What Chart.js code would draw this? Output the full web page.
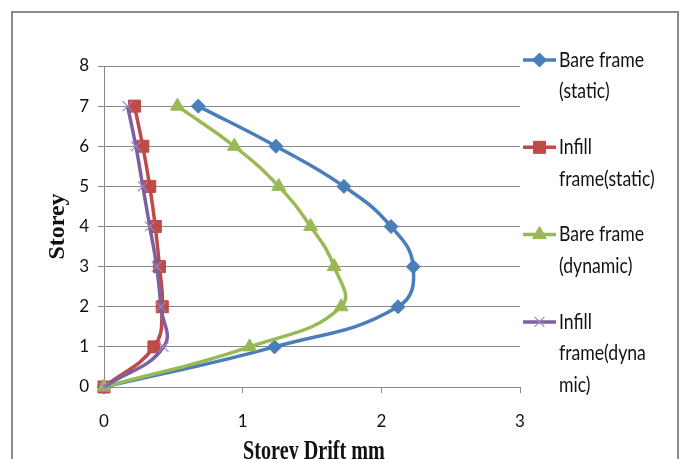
<!DOCTYPE html>
<html>
<head>
<meta charset="utf-8">
<script src="https://cdn.jsdelivr.net/npm/chart.js@4/dist/chart.umd.min.js"></script>
<style>
  html, body { margin: 0; padding: 0; background: #fff; }
  #wrap { width: 684px; height: 459px; position: relative; }
</style>
</head>
<body>
<div id="wrap"><canvas id="c" width="684" height="459"></canvas></div>
<script>
// Storey drift (mm) per storey level for each frame type / analysis
const storeys = [0, 1, 2, 3, 4, 5, 6, 7];
const bareStatic    = [0, 1.23, 2.12, 2.23, 2.07, 1.73, 1.24, 0.68];
const infillStatic  = [0, 0.36, 0.42, 0.40, 0.37, 0.33, 0.28, 0.22];
const bareDynamic   = [0, 1.05, 1.71, 1.66, 1.49, 1.26, 0.94, 0.53];
const infillDynamic = [0, 0.43, 0.41, 0.38, 0.33, 0.28, 0.23, 0.17];

const xTicks = [0, 1, 2, 3];
const yTicks = [0, 1, 2, 3, 4, 5, 6, 7, 8];

const seriesNames = ['Bare frame (static)', 'Infill frame(static)', 'Bare frame (dynamic)', 'Infill frame(dynamic)'];
const legendLines = [
  ['Bare frame', '(static)'],
  ['Infill', 'frame(static)'],
  ['Bare frame', '(dynamic)'],
  ['Infill', 'frame(dyna', 'mic)']
];

const xTitle = 'Storey Drift mm';
const yTitle = 'Storey';

const GRID = '#888888';
const TEXT = '#111111';
const TICK_FONT = { family: 'Lato, "Liberation Sans", sans-serif', size: 17 };

function pairs(xs) {
  return xs.map((x, i) => ({ x: x, y: storeys[i] }));
}

function series(label, values, color, style, radius, order, markerColor, markerBorder) {
  return {
    label: label,
    data: pairs(values),
    showLine: true,
    borderColor: color,
    backgroundColor: color,
    borderWidth: 3.5,
    tension: 0.45,
    pointStyle: style,
    pointRadius: radius,
    pointHoverRadius: radius,
    pointBackgroundColor: markerColor || color,
    pointBorderColor: markerColor || color,
    pointBorderWidth: markerBorder,
    clip: false,
    order: order
  };
}

// outer frame, condensed x-axis title and the wrapped legend on the right
const frameAndLegend = {
  id: 'frameAndLegend',
  beforeDraw(chart) {
    const ctx = chart.ctx;
    ctx.save();
    ctx.fillStyle = '#ffffff';
    ctx.fillRect(0, 0, chart.width, chart.height);
    ctx.restore();
  },
  afterDraw(chart) {
    const ctx = chart.ctx;
    const area = chart.chartArea;
    ctx.save();
    ctx.strokeStyle = '#8a8a8a';
    ctx.lineWidth = 2;
    ctx.strokeRect(12, 12, 666, 470);

    // x-axis title, narrow bold serif
    ctx.save();
    ctx.translate((area.left + area.right) / 2 + 2, 458.5);
    ctx.scale(0.72, 1);
    ctx.font = 'bold 28px "Liberation Serif", "Times New Roman", serif';
    ctx.fillStyle = TEXT;
    ctx.textAlign = 'center';
    ctx.textBaseline = 'alphabetic';
    ctx.fillText(xTitle, 0, 0);
    ctx.restore();

    chart.data.datasets.forEach((ds, i) => {
      const y0 = 60 + i * 87.3;
      ctx.strokeStyle = ds.borderColor;
      ctx.lineWidth = ds.borderWidth;
      ctx.beginPath();
      ctx.moveTo(523, y0);
      ctx.lineTo(556, y0);
      ctx.stroke();

      ctx.fillStyle = ds.pointBackgroundColor;
      ctx.strokeStyle = ds.pointBorderColor;
      ctx.lineWidth = ds.pointBorderWidth;
      Chart.helpers.drawPoint(ctx, {
        pointStyle: ds.pointStyle,
        radius: ds.pointRadius,
        borderWidth: ds.pointBorderWidth,
        rotation: 0
      }, 539.5, y0);

      ctx.save();
      ctx.translate(559, y0);
      ctx.scale(0.84, 1);
      ctx.fillStyle = TEXT;
      ctx.font = '21px Lato, "Liberation Sans", sans-serif';
      ctx.textAlign = 'left';
      ctx.textBaseline = 'middle';
      legendLines[i].forEach((line, k) => {
        ctx.fillText(line, 0, k * 31.5);
      });
      ctx.restore();
    });
    ctx.restore();
  }
};

new Chart(document.getElementById('c'), {
  type: 'scatter',
  data: {
    datasets: [
      series(seriesNames[0], bareStatic,    '#4A7EBB', 'rectRot',  7,   4, null, 1),
      series(seriesNames[1], infillStatic,  '#BE4B48', 'rect',     8.5, 3, null, 1),
      series(seriesNames[2], bareDynamic,   '#98B954', 'triangle', 8,   2, null, 1),
      series(seriesNames[3], infillDynamic, '#7D60A0', 'crossRot', 7,   1, '#9A86C2', 1.2)
    ]
  },
  options: {
    responsive: false,
    devicePixelRatio: 1,
    animation: false,
    events: [],
    layout: { padding: { top: 66, right: 164, left: 0, bottom: 0 } },
    plugins: {
      legend: { display: false },
      tooltip: { enabled: false }
    },
    scales: {
      x: {
        type: 'linear',
        min: 0,
        max: 3,
        afterBuildTicks(scale) { scale.ticks = xTicks.map(v => ({ value: v })); },
        afterFit(scale) { scale.height = 72; },
        ticks: { color: TEXT, font: TICK_FONT, padding: 18 },
        grid: { drawOnChartArea: false, drawTicks: true, tickLength: 6, color: GRID, lineWidth: 1 },
        border: { display: true, color: GRID, width: 1 },
        title: { display: false }
      },
      y: {
        type: 'linear',
        min: 0,
        max: 8,
        afterBuildTicks(scale) { scale.ticks = yTicks.map(v => ({ value: v })); },
        afterFit(scale) { scale.width = 104; },
        ticks: { color: TEXT, font: TICK_FONT, padding: 9 },
        grid: { drawOnChartArea: true, drawTicks: true, tickLength: 6, color: GRID, lineWidth: 1 },
        border: { display: true, color: GRID, width: 1 },
        title: {
          display: true,
          text: yTitle,
          color: TEXT,
          font: { family: '"Liberation Serif", "Times New Roman", serif', size: 24, weight: 'bold', lineHeight: 1 },
          padding: { top: 46, bottom: 0 }
        }
      }
    }
  },
  plugins: [frameAndLegend]
});
</script>
</body>
</html>
